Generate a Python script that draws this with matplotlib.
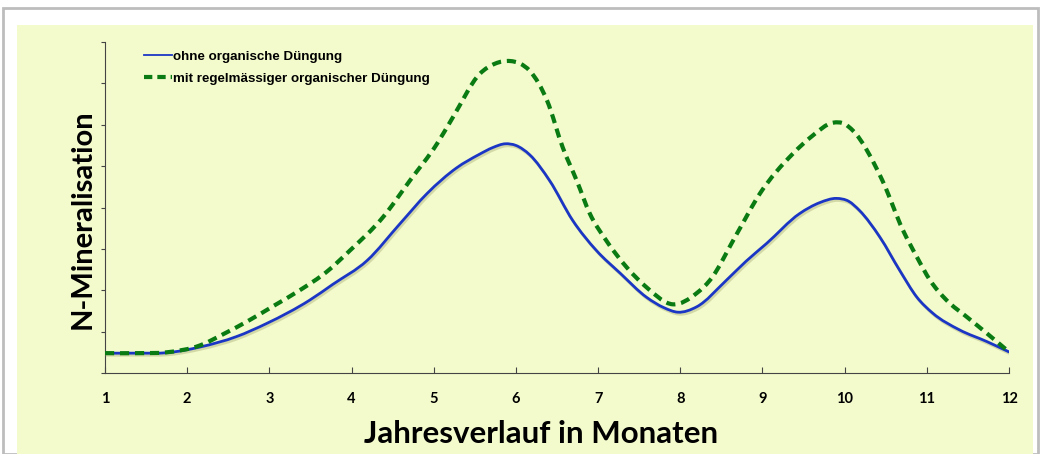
import numpy as np
import matplotlib.pyplot as plt
import matplotlib.patheffects as pe
from matplotlib.patches import Rectangle, PathPatch
from matplotlib.path import Path
from matplotlib.lines import Line2D

# Werte (Monat, N-Mineralisation in Tick-Einheiten)
monate_ohne = [1.0, 1.4, 1.75, 2.16, 2.6, 2.97, 3.49, 3.77, 4.19, 4.59, 4.92, 5.28, 5.55,
               5.72, 5.87, 6.0, 6.17, 6.41, 6.69, 6.98, 7.27, 7.59, 7.8, 7.97, 8.2, 8.56,
               8.8, 9.05, 9.45, 9.7, 9.9, 10.05, 10.18, 10.43, 10.67, 10.88, 11.07, 11.4,
               11.73, 12.0]
werte_ohne = [0.48, 0.48, 0.49, 0.63, 0.88, 1.2, 1.76, 2.14, 2.72, 3.61, 4.34, 4.96, 5.28,
              5.45, 5.54, 5.50, 5.27, 4.65, 3.69, 2.96, 2.41, 1.83, 1.58, 1.47, 1.60, 2.24,
              2.70, 3.13, 3.85, 4.12, 4.22, 4.15, 3.93, 3.28, 2.48, 1.83, 1.45, 1.04,
              0.76, 0.51]

monate_mit = [1.0, 1.4, 1.75, 2.16, 2.45, 2.76, 3.05, 3.37, 3.7, 3.98, 4.38, 4.71, 5.04,
              5.23, 5.56, 5.75, 5.93, 6.05, 6.17, 6.38, 6.57, 6.74, 6.9, 7.1, 7.35, 7.59,
              7.91, 8.2, 8.36, 8.69, 8.97, 9.37, 9.6, 9.86, 10.0, 10.1, 10.46, 10.71,
              10.88, 11.04, 11.24, 11.49, 11.73, 12.0]
werte_mit = [0.48, 0.48, 0.50, 0.67, 0.95, 1.28, 1.62, 2.0, 2.45, 2.96, 3.76, 4.65, 5.54,
             6.17, 7.23, 7.48, 7.54, 7.48, 7.30, 6.58, 5.45, 4.65, 3.85, 3.2, 2.55, 2.07,
             1.66, 1.93, 2.24, 3.37, 4.34, 5.30, 5.72, 6.05, 6.02, 5.86, 4.65, 3.45,
             2.80, 2.24, 1.76, 1.35, 0.96, 0.51]

x_ticks = list(range(1, 13))
y_ticks = list(range(0, 9))


def glatte_kurve(xs, ys):
    # geglaettete Linie wie in Excel: kubische Bezier-Segmente durch die Punkte
    xs = np.asarray(xs, float)
    ys = np.asarray(ys, float)
    m = np.gradient(ys, xs)
    verts = [(xs[0], ys[0])]
    codes = [Path.MOVETO]
    for i in range(len(xs) - 1):
        dx = xs[i + 1] - xs[i]
        verts += [(xs[i] + dx / 3, ys[i] + m[i] * dx / 3),
                  (xs[i + 1] - dx / 3, ys[i + 1] - m[i + 1] * dx / 3),
                  (xs[i + 1], ys[i + 1])]
        codes += [Path.CURVE4] * 3
    return Path(verts, codes)


fig = plt.figure(figsize=(10.42, 4.54), dpi=100)
fig.patch.set_facecolor('white')

# Rahmen und Hintergrund
fig.patches.append(Rectangle((3 / 1042, 0), 1035 / 1042, 446 / 454, transform=fig.transFigure,
                             facecolor='white', edgecolor='#bdbdbd', linewidth=2, zorder=-10))
fig.patches.append(Rectangle((17 / 1042, 0), 1016 / 1042, 429 / 454, transform=fig.transFigure,
                             facecolor='#f3fbcc', edgecolor='none', zorder=-9))

ax = fig.add_axes([105 / 1042, 81 / 454, 904 / 1042, 331 / 454])
ax.set_facecolor('none')

blau = '#1b36c4'
gruen = '#0a7a12'
schatten = [pe.SimpleLineShadow(offset=(1, -1.5), shadow_color='#9a9a60', alpha=0.35), pe.Normal()]

ax.add_patch(PathPatch(glatte_kurve(monate_ohne, werte_ohne), fill=False, edgecolor=blau,
                       linewidth=2.0, path_effects=schatten, zorder=3, capstyle='round'))
ax.add_patch(PathPatch(glatte_kurve(monate_mit, werte_mit), fill=False, edgecolor=gruen,
                       linewidth=3.0, linestyle=(0, (2.2, 1.4)), zorder=4))

ax.set_xlim(1, 12)
ax.set_ylim(0, 8)
ax.set_xticks(x_ticks)
ax.set_yticks(y_ticks)
ax.set_yticklabels([])
ax.tick_params(axis='x', direction='in', length=4, width=0.8, color='#444444', pad=14)
ax.tick_params(axis='y', direction='out', length=3, width=0.8, color='#444444')
for lbl in ax.get_xticklabels():
    lbl.set_fontfamily('Lato')
    lbl.set_fontweight('bold')
    lbl.set_fontsize(10.5)

ax.spines['top'].set_visible(False)
ax.spines['right'].set_visible(False)
ax.spines['left'].set_color('#444444')
ax.spines['bottom'].set_color('#444444')

ax.set_xlabel('Jahresverlauf in Monaten', fontfamily='Lato', fontweight='bold', fontsize=22.5)
ax.xaxis.set_label_coords(0.482, -0.142)
ax.set_ylabel('N-Mineralisation', fontfamily='Lato', fontweight='bold', fontsize=21)
ax.yaxis.set_label_coords(-0.01, 0.465)

handles = [Line2D([], [], color=blau, linewidth=1.3),
           Line2D([], [], color=gruen, linewidth=3.0, linestyle=(0, (2.0, 1.2)))]
labels = ['ohne organische Düngung', 'mit regelmässiger organischer Düngung']
ax.legend(handles, labels, loc='upper left', bbox_to_anchor=(0.03, 1.011), frameon=False,
          prop={'family': 'Liberation Sans', 'weight': 'bold', 'size': 9.6},
          handlelength=2.1, handletextpad=0.1, labelspacing=0.75)

plt.savefig('out.png', dpi=100)
